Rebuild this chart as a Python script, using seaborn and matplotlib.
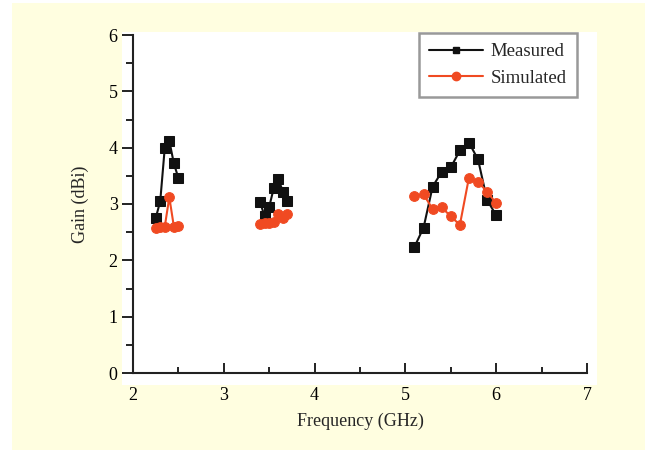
import matplotlib
matplotlib.use("Agg")
import matplotlib.pyplot as plt
import seaborn as sns
import pandas as pd
from matplotlib.patches import Rectangle
from matplotlib.lines import Line2D
from matplotlib.ticker import MultipleLocator

# Data
freq_b1 = [2.25, 2.30, 2.35, 2.40, 2.45, 2.50]
meas_b1 = [2.75, 3.05, 4.00, 4.12, 3.72, 3.46]
sim_b1 = [2.58, 2.59, 2.60, 3.12, 2.60, 2.61]

freq_b2 = [3.40, 3.45, 3.50, 3.55, 3.60, 3.65, 3.70]
meas_b2 = [3.03, 2.78, 2.95, 3.28, 3.45, 3.22, 3.06]
sim_b2 = [2.65, 2.66, 2.67, 2.68, 2.82, 2.75, 2.82]

freq_b3 = [5.1, 5.2, 5.3, 5.4, 5.5, 5.6, 5.7, 5.8, 5.9, 6.0]
meas_b3 = [2.24, 2.58, 3.31, 3.57, 3.65, 3.95, 4.09, 3.79, 3.07, 2.80]
sim_b3 = [3.14, 3.17, 2.91, 2.94, 2.78, 2.63, 3.47, 3.39, 3.22, 3.01]

x_ticks = [2, 3, 4, 5, 6, 7]
y_ticks = [0, 1, 2, 3, 4, 5, 6]

bands = [(freq_b1, meas_b1, sim_b1), (freq_b2, meas_b2, sim_b2), (freq_b3, meas_b3, sim_b3)]

sns.set_style("white")
plt.rcParams["font.family"] = ["Liberation Serif", "DejaVu Serif"]
FS = 13

fig = plt.figure(figsize=(6.45, 4.5), dpi=100)
fig.patch.set_facecolor("white")
fig.patches.append(Rectangle((12 / 645, 0), 1 - 12 / 645, 447 / 450, transform=fig.transFigure,
                             facecolor="#fffee0", edgecolor="none", zorder=-3))
fig.patches.append(Rectangle((122 / 645, 65 / 450), (597 - 122) / 645, (385 - 32) / 450,
                             transform=fig.transFigure, facecolor="white", edgecolor="none", zorder=-2))

ax = fig.add_axes([133 / 645, 77 / 450, (587 - 133) / 645, (373 - 35) / 450])
ax.set_facecolor("white")
ax.set_zorder(2)

black = "#111111"
orange = "#f04a22"
for f, m, s in bands:
    df = pd.DataFrame({"freq": f, "meas": m, "sim": s})
    sns.lineplot(data=df, x="freq", y="meas", ax=ax, color=black, marker="s", markersize=6.5,
                 markeredgecolor=black, linewidth=1.5, estimator=None, sort=False)
    sns.lineplot(data=df, x="freq", y="sim", ax=ax, color=orange, marker="o", markersize=7,
                 markeredgecolor=orange, linewidth=1.5, estimator=None, sort=False)

ax.set_xlim(2, 7)
ax.set_ylim(0, 6)
ax.set_xticks(x_ticks)
ax.set_yticks(y_ticks)
ax.xaxis.set_minor_locator(MultipleLocator(0.5))
ax.yaxis.set_minor_locator(MultipleLocator(0.5))

for side in ["top", "right"]:
    ax.spines[side].set_visible(False)
for side in ["left", "bottom"]:
    ax.spines[side].set_color("#222222")
    ax.spines[side].set_linewidth(1.5)

ax.tick_params(which="both", bottom=True, left=True, top=False, right=False)
ax.tick_params(axis="x", which="major", direction="in", length=7, width=1.4, color="#222222", pad=10)
ax.tick_params(axis="x", which="minor", direction="in", length=4, width=1.4, color="#222222")
ax.tick_params(axis="y", which="major", direction="out", length=8, width=1.4, color="#222222", pad=3)
ax.tick_params(axis="y", which="minor", direction="out", length=5, width=1.4, color="#222222")
ax.tick_params(labelsize=FS, labelcolor="black")

ax.set_xlabel("Frequency (GHz)", fontsize=FS, labelpad=6)
ax.set_ylabel("Gain (dBi)", fontsize=FS, labelpad=14)

handles = [
    Line2D([], [], color=black, marker="s", markersize=5, linewidth=1.5, label="Measured"),
    Line2D([], [], color=orange, marker="o", markersize=6, linewidth=1.5, label="Simulated"),
]
leg = ax.legend(handles=handles, loc="upper right", bbox_to_anchor=(0.978, 1.006), frameon=True,
                fancybox=False, edgecolor="#999999", framealpha=1, fontsize=13.5,
                handlelength=2.9, borderpad=0.55, labelspacing=0.5, handletextpad=0.4,
                borderaxespad=0.0)
leg.get_frame().set_linewidth(1.8)

fig.savefig("out.png", dpi=100, facecolor=fig.get_facecolor())
